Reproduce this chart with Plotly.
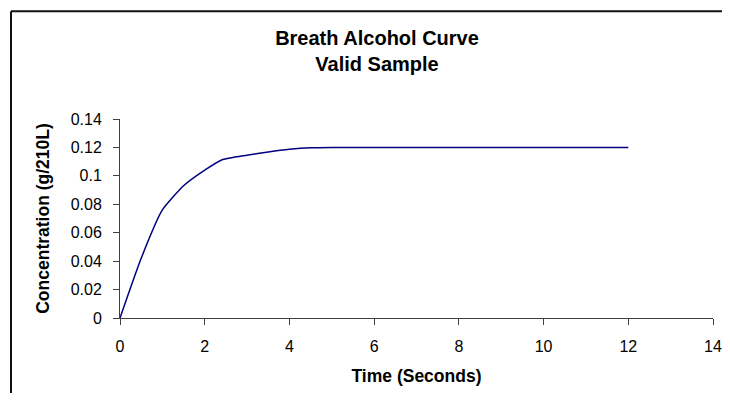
import plotly.graph_objects as go

# Data
time_s = [0, 0.5, 1.0, 1.5, 2.0, 2.4, 3.0, 3.5, 4.0, 4.5, 5, 6, 7, 8, 9, 10, 11, 12]
concentration = [0, 0.042, 0.076, 0.093, 0.104, 0.1112, 0.1145, 0.1168, 0.1187, 0.1198,
                 0.12, 0.12, 0.12, 0.12, 0.12, 0.12, 0.12, 0.12]

title_text = "Breath Alcohol Curve<br>Valid Sample"
x_title = "Time (Seconds)"
y_title = "Concentration (g/210L)"

# page has an 8px body margin, so the figure is sized/positioned for it
OFF = 8
W, H = 730 - 2 * OFF, 401 - 2 * OFF
L, R, T = 120 - OFF, 9, 119 - OFF
B = H - T - 199.3
pw = W - L - R
ph = H - T - B

fig = go.Figure()
fig.add_trace(go.Scatter(
    x=time_s, y=concentration, mode="lines",
    line=dict(color="#000080", width=1.5, shape="spline", smoothing=0.5),
    showlegend=False, hoverinfo="skip",
))

font_family = "Liberation Sans, Arial, sans-serif"
axis_col = "#404040"

fig.update_layout(
    template="none",
    width=W, height=H, autosize=False,
    margin=dict(l=L, r=R, t=T, b=B, pad=0, autoexpand=False),
    paper_bgcolor="white", plot_bgcolor="white",
    font=dict(family=font_family, color="black", size=16),
    title=dict(
        text=title_text,
        font=dict(family=font_family, size=20, color="black", weight="bold"),
        x=(377 - OFF - L) / pw, xref="paper", xanchor="center",
        y=1 - 37 / H, yref="container", yanchor="top",
    ),
    xaxis=dict(
        range=[0, 14], dtick=2, tick0=0, automargin=False,
        showgrid=False, zeroline=False,
        showline=True, linecolor=axis_col, linewidth=1,
        ticks="outside", ticklen=6, tickcolor=axis_col, tickwidth=1,
        tickfont=dict(size=16, family=font_family, color="black"),
        ticklabelstandoff=8, ticklabeloverflow="allow",
        title=dict(text=x_title, font=dict(size=17.5, family=font_family, weight="bold", color="black"), standoff=15),
    ),
    yaxis=dict(
        range=[0, 0.14], dtick=0.02, tick0=0, automargin=False,
        showgrid=False, zeroline=False,
        showline=True, linecolor=axis_col, linewidth=1,
        ticks="outside", ticklen=6, tickcolor=axis_col, tickwidth=1,
        tickfont=dict(size=16, family=font_family, color="black"),
        ticklabelstandoff=8, ticklabeloverflow="allow",
        title=dict(text=y_title, font=dict(size=17.5, family=font_family, weight="bold", color="black"), standoff=16.5),
    ),
)

# Chart-area frame (left and top edges visible in the reference)
fx = (11 - OFF - L) / pw
fy = 1 + (T - (11 - OFF)) / ph
fig.add_shape(type="line", xref="paper", yref="paper",
              x0=fx, x1=fx, y0=fy, y1=-(B + 5) / ph,
              line=dict(color="#111111", width=2))
fig.add_shape(type="line", xref="paper", yref="paper",
              x0=fx, x1=(W - L + 5) / pw, y0=fy, y1=fy,
              line=dict(color="#111111", width=2))

fig.write_html("out.html")
